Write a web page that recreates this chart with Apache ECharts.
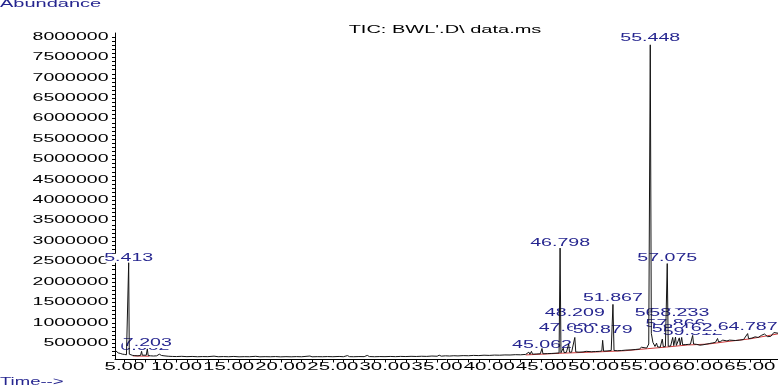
<!DOCTYPE html>
<html><head><meta charset="utf-8">
<script src="https://cdn.jsdelivr.net/npm/echarts@6/dist/echarts.min.js"></script>
<style>html,body{margin:0;padding:0;background:#fff}#c{width:778px;height:386px}</style>
</head><body><div id="c"></div>
<script>
// ---- data ----
// chromatogram trace: [retention time (min), abundance]
const trace = [
[4.10,330000],[4.25,300000],[4.40,262000],[4.60,250000],[4.80,232000],[5.00,225000],[5.20,215000],[5.35,240000],
[5.413,2470000],[5.47,230000],[5.60,205000],[5.80,200000],[6.00,195000],[6.30,190000],[6.55,200000],[6.65,300000],
[6.72,205000],[6.90,195000],[7.10,205000],[7.20,360000],[7.28,200000],[7.50,190000],[7.80,185000],[8.10,190000],
[8.35,230000],[8.45,250000],[8.55,200000],[8.70,220000],[8.80,190000],[9.20,180000],[9.60,175000],[10.00,172000],
[10.50,178000],[11.00,170000],[11.50,175000],[12.00,168000],[12.50,172000],[13.00,170000],[13.60,182000],[14.00,168000],
[14.50,172000],[15.00,168000],[15.50,175000],[16.00,166000],[16.50,170000],[17.00,168000],[17.60,178000],[18.00,166000],
[18.50,170000],[19.00,167000],[19.50,172000],[20.00,165000],[20.50,170000],[21.00,166000],[21.50,171000],[22.00,167000],
[22.80,185000],[23.00,166000],[23.50,170000],[24.00,168000],[24.50,172000],[25.00,168000],[25.60,175000],[26.00,168000],
[26.40,195000],[26.60,170000],[27.00,168000],[27.50,172000],[28.00,170000],[28.30,200000],[28.50,172000],[29.00,168000],
[29.50,172000],[30.00,170000],[30.50,175000],[31.00,170000],[31.50,176000],[32.00,172000],[32.50,178000],[33.00,174000],
[33.50,180000],[34.00,176000],[34.50,185000],[35.00,180000],[35.20,205000],[35.40,182000],[35.80,190000],[36.20,185000],
[36.60,192000],[37.00,188000],[37.50,195000],[38.00,192000],[38.50,200000],[39.00,196000],[39.50,205000],[40.00,200000],
[40.50,208000],[41.00,205000],[41.50,212000],[42.00,210000],[42.50,218000],[43.00,215000],[43.50,225000],[43.80,280000],
[43.90,225000],[44.05,300000],[44.15,230000],[44.50,235000],[44.90,240000],[45.062,370000],[45.15,240000],[45.60,245000],
[46.00,248000],[46.40,255000],[46.70,260000],[46.798,2830000],[46.88,265000],[47.00,270000],[47.10,380000],[47.18,270000],
[47.40,275000],[47.622,480000],[47.70,280000],[47.90,280000],[48.00,300000],[48.209,640000],[48.30,285000],[48.60,280000],
[49.00,285000],[49.30,300000],[49.45,285000],[49.80,290000],[50.20,295000],[50.60,300000],[50.80,310000],[50.879,570000],
[50.97,305000],[51.30,310000],[51.70,320000],[51.867,1450000],[51.97,320000],[52.30,315000],[52.70,320000],[53.10,330000],
[53.60,335000],[54.00,345000],[54.40,355000],[54.60,400000],[54.75,360000],[55.10,380000],[55.30,480000],[55.448,7810000],
[55.55,740000],[55.70,520000],[55.90,420000],[56.05,500000],[56.15,410000],[56.40,400000],[56.60,600000],[56.70,410000],
[56.90,420000],[57.075,2450000],[57.17,425000],[57.40,430000],[57.60,640000],[57.70,440000],[57.866,650000],[57.95,445000],
[58.10,450000],[58.233,630000],[58.32,455000],[58.462,640000],[58.55,460000],[58.80,465000],[59.10,470000],[59.30,475000],
[59.512,690000],[59.60,480000],[59.90,470000],[60.20,450000],[60.50,460000],[60.80,475000],[61.10,490000],[61.40,505000],
[61.70,520000],[61.90,615000],[62.00,530000],[62.20,545000],[62.40,575000],[62.55,550000],[62.80,555000],[63.05,575000],
[63.20,560000],[63.60,565000],[64.00,575000],[64.40,590000],[64.787,735000],[64.88,610000],[65.20,625000],[65.50,655000],
[65.80,640000],[66.10,690000],[66.40,725000],[66.70,660000],[67.00,665000],[67.30,760000],[67.70,745000]
];
// integration baseline (red), '-' breaks the line
const baseline = [
[5.80,188000],[7.40,180000],['-','-'],
[43.50,212000],[47.00,255000],[50.00,282000],[53.00,315000],[55.20,365000],[57.00,405000],[59.00,455000],
[61.00,478000],[63.00,545000],[65.00,605000],[67.70,728000]
];
// peak labels: retention time and height (abundance) of the label
const peakTime  = [5.413, 6.962, 7.203, 45.062, 46.798, 47.622, 48.209, 50.879, 51.867, 55.448, 56.828, 57.075, 57.866, 58.233, 58.462, 59.512, 62.204, 64.787];
const peakLabel = [2581000, 400000, 494000, 445000, 2950000, 862000, 1231000, 813000, 1599000, 7960000, 1231000, 2581000, 975000, 1231000, 838000, 764000, 862000, 887000];
// axis tick labels
const xTicks = [5,10,15,20,25,30,35,40,45,50,55,60,65];
const yTicks = [500000,1000000,1500000,2000000,2500000,3000000,3500000,4000000,4500000,5000000,5500000,6000000,6500000,7000000,7500000,8000000];
const xMinorTicks = [5,6,7,8,9,10,11,12,13,14,15,16,17,18,19,20,21,22,23,24,25,26,27,28,29,30,31,32,33,34,35,36,37,38,39,40,41,42,43,44,45,46,47,48,49,50,51,52,53,54,55,56,57,58,59,60,61,62,63,64,65,66,67];

const X_MIN = 4.1, X_MAX = 67.7, Y_MIN = 100000, Y_MAX = 8100000;
const FONT = '10px "Liberation Sans", Arial, sans-serif';
const NAVY = '#25258f';

const yMinor = [];
for (let v = 200000; v <= 8000000; v += 100000) yMinor.push(v);

const chart = echarts.init(document.getElementById('c'));
chart.setOption({
  animation: false,
  backgroundColor: '#fff',
  grid: { left: 115, right: 0, top: 33, bottom: 26.5 },
  xAxis: {
    type: 'value', min: X_MIN, max: X_MAX,
    axisLine: { show: true, onZero: false, lineStyle: { color: '#000', width: 1 } },
    axisTick: { show: true, customValues: xMinorTicks, length: 3, lineStyle: { color: '#000' } },
    axisLabel: { show: false },
    splitLine: { show: false }
  },
  yAxis: {
    type: 'value', min: Y_MIN, max: Y_MAX,
    axisLine: { show: true, lineStyle: { color: '#000', width: 1 } },
    axisTick: { show: true, customValues: yMinor, length: 3, lineStyle: { color: '#000' } },
    axisLabel: { show: false },
    splitLine: { show: false }
  },
  graphic: [
    { type: 'text', x: 0, y: 4, scaleX: 2, style: { text: 'Abundance', font: FONT, fill: NAVY, align: 'left', verticalAlign: 'middle' } },
    { type: 'text', x: 0, y: 382, scaleX: 1.85, style: { text: 'Time-->', font: FONT, fill: NAVY, align: 'left', verticalAlign: 'middle' } },
    { type: 'text', x: 445, y: 30, scaleX: 2, style: { text: "TIC: BWL'.D\\ data.ms", font: FONT, fill: '#000', align: 'center', verticalAlign: 'middle' } }
  ],
  series: [
    {
      type: 'line', data: trace, showSymbol: false, symbol: 'none', z: 12,
      lineStyle: { color: '#141414', width: 1 }, silent: true
    },
    {
      type: 'line', data: baseline, showSymbol: false, symbol: 'none', z: 11,
      lineStyle: { color: '#d03a3a', width: 1 }, silent: true
    },
    {
      // y axis tick labels (stretched text like the reference)
      type: 'custom', z: 5, silent: true,
      data: yTicks.map(v => [X_MIN, v]),
      renderItem: function (params, api) {
        const p = api.coord([api.value(0), api.value(1)]);
        return { type: 'text', x: p[0] - 6.5, y: p[1], scaleX: 1.95,
          style: { text: String(yTicks[params.dataIndex]), font: FONT, fill: '#000', align: 'right', verticalAlign: 'middle' } };
      }
    },
    {
      // x axis tick labels
      type: 'custom', z: 5, silent: true,
      data: xTicks.map(t => [t, Y_MIN]),
      renderItem: function (params, api) {
        const p = api.coord([api.value(0), api.value(1)]);
        return { type: 'text', x: p[0], y: p[1] + 7.5, scaleX: 2.04,
          style: { text: xTicks[params.dataIndex].toFixed(2), font: FONT, fill: '#000', align: 'center', verticalAlign: 'middle' } };
      }
    },
    {
      // peak retention-time labels, white boxes drawn in time order
      type: 'custom', z: 10, silent: true,
      data: peakTime.map((t, i) => [t, peakLabel[i]]),
      renderItem: function (params, api) {
        const p = api.coord([api.value(0), api.value(1)]);
        return { type: 'text', x: p[0], y: p[1], scaleX: 1.96,
          style: { text: peakTime[params.dataIndex].toFixed(3), font: FONT, fill: NAVY, align: 'center', verticalAlign: 'middle',
                   backgroundColor: '#fff', lineHeight: 9, padding: 0 } };
      }
    }
  ]
});
</script></body></html>
